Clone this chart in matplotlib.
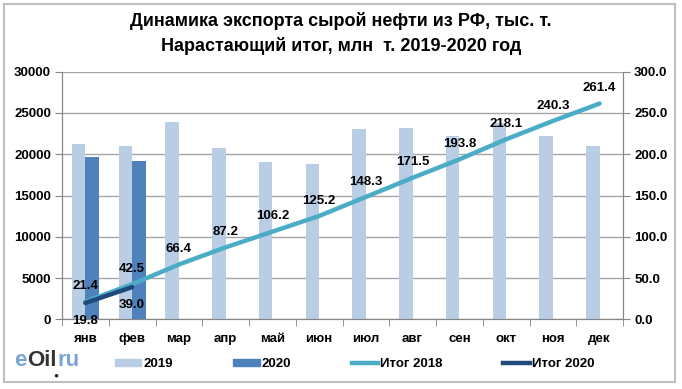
import numpy as np
import matplotlib
matplotlib.use("Agg")
import matplotlib.pyplot as plt
from matplotlib.patches import Patch, Rectangle
from matplotlib.lines import Line2D

months = ["янв", "фев", "мар", "апр", "май", "июн", "июл", "авг", "сен", "окт", "ноя", "дек"]
exp_2019 = [21250, 21050, 23950, 20700, 19000, 18850, 23050, 23200, 22200, 23800, 22200, 21050]
exp_2020 = [19700, 19150]
cum_2018 = [21.4, 42.5, 66.4, 87.2, 106.2, 125.2, 148.3, 171.5, 193.8, 218.1, 240.3, 261.4]
cum_2020 = [19.8, 39.0]

C19 = "#b9cde5"
C20 = "#4f81bd"
CL18 = "#4bacc6"
CL20 = "#1f497d"
GRID = "#a6a6a6"

plt.rcParams["font.family"] = ["Liberation Sans", "DejaVu Sans"]
plt.rcParams["font.weight"] = "bold"

fig = plt.figure(figsize=(6.82, 3.89), dpi=100)
fig.patches.append(Rectangle((4 / 682, 1 - 382 / 389), 671 / 682, 378 / 389,
                             transform=fig.transFigure, fill=False,
                             edgecolor="#bfbfbf", linewidth=1.5))

ax = fig.add_axes([62 / 682, 69.7 / 389, 561 / 682, 247.6 / 389])
ax2 = ax.twinx()

x = np.arange(len(months))
w = 0.29
ax.bar(x - w / 2, exp_2019, width=w, color=C19, zorder=2)
ax.bar(x[:len(exp_2020)] + w / 2, exp_2020, width=w, color=C20, zorder=2)

ax.set_xlim(-0.5, 11.5)
ax.set_ylim(0, 30000)
ax.set_yticks(np.arange(0, 30001, 5000))
ax.yaxis.grid(True, color=GRID, linewidth=1)
ax.set_axisbelow(True)
ax.set_xticks(x)
ax.set_xticklabels(months)
ax.set_xticks(np.arange(-0.5, 12, 1), minor=True)
ax.tick_params(axis="x", which="major", length=0, pad=10, labelsize=9.5)
ax.tick_params(axis="x", which="minor", length=5, color="#868686", direction="out")
ax.tick_params(axis="y", length=5, color="#868686", labelsize=9.5, pad=3)

ax2.plot(x, cum_2018, color=CL18, linewidth=3.2, solid_capstyle="round", zorder=3)
ax2.plot(x[:len(cum_2020)], cum_2020, color=CL20, linewidth=3.2, solid_capstyle="round", zorder=4)
ax2.set_ylim(0, 300)
ax2.set_yticks(np.arange(0, 301, 50))
ax2.set_yticklabels([f"{v:.1f}" for v in np.arange(0, 301, 50)])
ax2.tick_params(axis="y", length=5, color="#868686", labelsize=9.5, pad=3)

for a in (ax, ax2):
    a.spines["top"].set_visible(False)
    a.spines["left"].set_color("#868686")
    a.spines["right"].set_color("#868686")
    a.spines["bottom"].set_color("#868686")

for xi, v in zip(x, cum_2018):
    ax2.annotate(f"{v:.1f}", (xi, v), xytext=(0, 11), textcoords="offset points",
                 ha="center", va="center", fontsize=9.5, fontweight="bold", zorder=5)
for xi, v in zip(x, cum_2020):
    ax2.annotate(f"{v:.1f}", (xi, v), xytext=(0, -13), textcoords="offset points",
                 ha="center", va="center", fontsize=9.5, fontweight="bold", zorder=5)

fig.text(0.5, 1 - 21 / 389, "Динамика экспорта сырой нефти из РФ, тыс. т.",
         ha="center", va="center", fontsize=13, fontweight="bold")
fig.text(0.5, 1 - 46 / 389, "Нарастающий итог, млн  т. 2019-2020 год",
         ha="center", va="center", fontsize=13, fontweight="bold")

handles = [Patch(color=C19), Patch(color=C20),
           Line2D([], [], color=CL18, linewidth=3.2),
           Line2D([], [], color=CL20, linewidth=3.2)]
labels = ["2019", "2020", "Итог 2018", "Итог 2020"]
fig.legend(handles, labels, loc="center left", bbox_to_anchor=(103 / 682, 1 - 364 / 389),
           ncol=4, frameon=False, fontsize=9.5, handlelength=2.0, handleheight=0.5,
           handletextpad=0.15, columnspacing=4.6)

# logo
ly = 1 - 360 / 389
fig.text(14 / 682, ly, "e", color="#79a6d6", fontsize=16, fontweight="bold", va="center")
fig.text(27 / 682, ly, "Oil", color="#333333", fontsize=16, fontweight="bold", va="center")
fig.text(58 / 682, ly, "ru", color="#79a6d6", fontsize=16, fontweight="bold", va="center")
fig.text(56 / 682, 1 - 376 / 389, "\u25cf", color="#222222", fontsize=6, ha="center", va="center")

fig.savefig("out.png", dpi=100)
